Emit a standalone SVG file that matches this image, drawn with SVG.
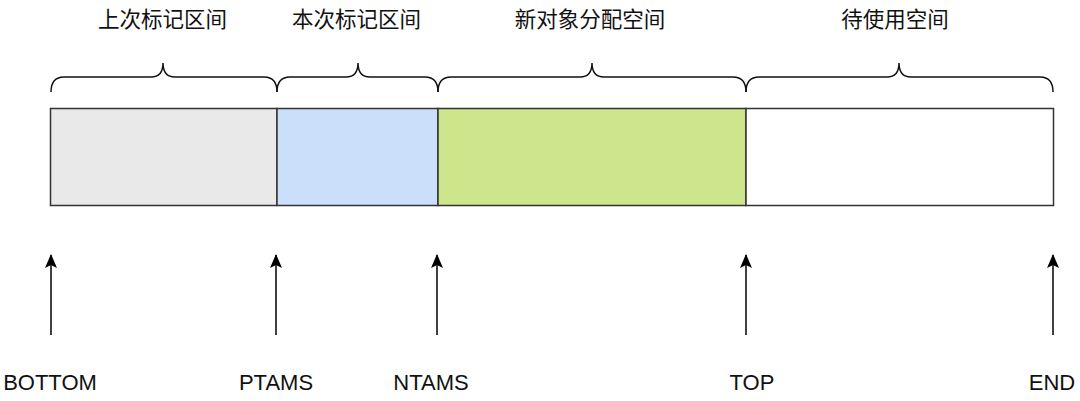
<svg xmlns="http://www.w3.org/2000/svg" width="1080" height="401" viewBox="0 0 1080 401">
<defs>
<style>
.seg{stroke:#333;stroke-width:1.5}
.brace{fill:none;stroke:#111;stroke-width:1.5}
.top{font-family:"Liberation Sans","Noto Sans CJK SC",sans-serif;font-size:21.5px;fill:#111;text-anchor:middle}
.lbl{font-family:"Liberation Sans",Arial,sans-serif;font-size:22px;fill:#111;text-anchor:middle}
.arr{stroke:#000;stroke-width:1.5;fill:none}
</style>
<marker id="ah" viewBox="0 0 14 12" refX="13" refY="6" markerWidth="14" markerHeight="12" markerUnits="userSpaceOnUse" orient="auto">
<path d="M14 6 L0 0 L3 6 L0 12 Z" fill="#000"/>
</marker>
</defs>
<rect width="1080" height="401" fill="#fff"/>
<g id="seg-prev"><rect class="seg" x="50.5" y="108.5" width="226.5" height="97" fill="#e9e9e9"/></g>
<g id="seg-cur"><rect class="seg" x="277" y="108.5" width="161" height="97" fill="#cbdffb"/></g>
<g id="seg-new"><rect class="seg" x="438" y="108.5" width="308" height="97" fill="#cde68b"/></g>
<g id="seg-free"><rect class="seg" x="746" y="108.5" width="307.5" height="97" fill="#ffffff"/></g>
<g id="braces">
<path class="brace" d="M51 92 Q51 77 64 77 L151 77 Q163 77 163 63 Q163 77 175 77 L264 77 Q277 77 277 92"/>
<path class="brace" d="M277 92 Q277 77 290 77 L346 77 Q358 77 358 63 Q358 77 370 77 L425 77 Q438 77 438 92"/>
<path class="brace" d="M438 92 Q438 77 451 77 L580 77 Q592 77 592 63 Q592 77 604 77 L733 77 Q746 77 746 92"/>
<path class="brace" d="M746 92 Q746 77 759 77 L887 77 Q899 77 899 63 Q899 77 911 77 L1040 77 Q1053 77 1053 92"/>
</g>
<g id="labels-top">
<text class="top" x="162.5" y="27">上次标记区间</text>
<text class="top" x="356.5" y="27">本次标记区间</text>
<text class="top" x="590" y="27">新对象分配空间</text>
<text class="top" x="895" y="27">待使用空间</text>
</g>
<g id="connectors">
<line class="arr" x1="51" y1="335" x2="51" y2="255" marker-end="url(#ah)"/>
<line class="arr" x1="276" y1="335" x2="276" y2="255" marker-end="url(#ah)"/>
<line class="arr" x1="437" y1="335" x2="437" y2="255" marker-end="url(#ah)"/>
<line class="arr" x1="746" y1="335" x2="746" y2="255" marker-end="url(#ah)"/>
<line class="arr" x1="1053" y1="335" x2="1053" y2="255" marker-end="url(#ah)"/>
</g>
<g id="labels-bottom">
<text class="lbl" x="50" y="390">BOTTOM</text>
<text class="lbl" x="276" y="390">PTAMS</text>
<text class="lbl" x="431" y="390">NTAMS</text>
<text class="lbl" x="752" y="390">TOP</text>
<text class="lbl" x="1052" y="390">END</text>
</g>
</svg>
